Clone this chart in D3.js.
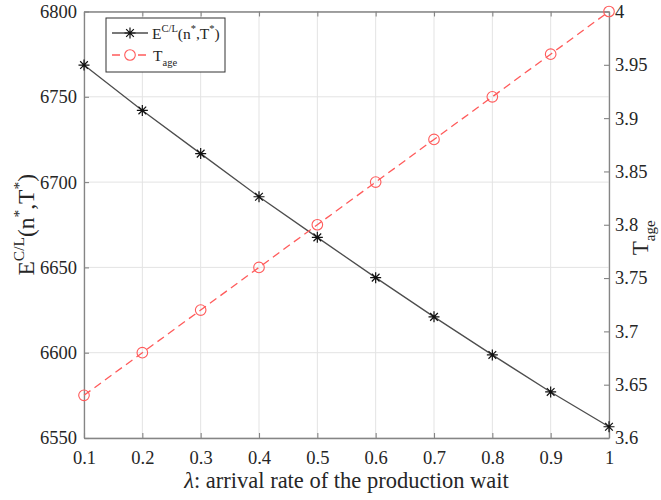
<!DOCTYPE html>
<html>
<head>
<meta charset="utf-8">
<script src="https://cdn.jsdelivr.net/npm/d3@7"></script>
<style>
  body { margin: 0; background: #fff; }
  svg text { font-family: "Liberation Serif", "Times New Roman", serif; fill: #262626; }
</style>
</head>
<body>
<div id="chart"></div>
<script>
// data
const lambda = [0.1, 0.2, 0.3, 0.4, 0.5, 0.6, 0.7, 0.8, 0.9, 1.0];
const costE = [6768.6, 6742, 6716.7, 6691.4, 6667.6, 6644, 6621, 6598.7, 6577, 6556.6];
const tAge = [3.64, 3.68, 3.72, 3.76, 3.80, 3.84, 3.88, 3.92, 3.96, 4.00];
const xTicks = [0.1, 0.2, 0.3, 0.4, 0.5, 0.6, 0.7, 0.8, 0.9, 1];
const leftTicks = [6550, 6600, 6650, 6700, 6750, 6800];
const rightTicks = [3.6, 3.65, 3.7, 3.75, 3.8, 3.85, 3.9, 3.95, 4];

const canvas_width = 661, canvas_height = 500;
const margin = {top: 11.5, right: 52, bottom: 62, left: 84};
const w = canvas_width - margin.left - margin.right,
      h = canvas_height - margin.top - margin.bottom;

const serif = "'Liberation Serif', 'Times New Roman', serif";
const axisCol = "#858585";
const lineCol = "#4d4d4d";
const red = "#ff5b5b";

const svg = d3.select("#chart").append("svg")
    .attr("width", canvas_width)
    .attr("height", canvas_height);
const g = svg.append("g")
    .attr("transform", "translate(" + margin.left + "," + margin.top + ")");

const x = d3.scaleLinear().domain([0.1, 1]).range([0, w]);
const yL = d3.scaleLinear().domain([6550, 6800]).range([h, 0]);
const yR = d3.scaleLinear().domain([3.6, 4]).range([h, 0]);

// grid
g.append("g").selectAll("line").data(xTicks).join("line")
    .attr("x1", d => x(d)).attr("x2", d => x(d))
    .attr("y1", 0).attr("y2", h)
    .attr("stroke", "#e3e3e3").attr("stroke-width", 1);
g.append("g").selectAll("line").data(leftTicks).join("line")
    .attr("x1", 0).attr("x2", w)
    .attr("y1", d => yL(d)).attr("y2", d => yL(d))
    .attr("stroke", "#e3e3e3").attr("stroke-width", 1);

function style(sel) {
  sel.attr("font-family", null).attr("font-size", null);
  sel.select(".domain").attr("stroke", axisCol).attr("stroke-width", 1.3);
  sel.selectAll(".tick line").attr("stroke", axisCol).attr("stroke-width", 1.1);
  sel.selectAll(".tick text")
    .style("font-family", serif)
    .style("font-size", "18.5px")
    .style("fill", "#262626");
}

// axes, ticks inward
g.append("g").attr("transform", "translate(0," + h + ")")
  .call(d3.axisBottom(x).tickValues(xTicks).tickFormat(d3.format("")).tickSize(-5).tickSizeOuter(0).tickPadding(13))
  .call(style);
g.append("g")
  .call(d3.axisTop(x).tickValues(xTicks).tickFormat("").tickSize(-5).tickSizeOuter(0))
  .call(style);
g.append("g")
  .call(d3.axisLeft(yL).tickValues(leftTicks).tickFormat(d3.format("d")).tickSize(-5).tickSizeOuter(0).tickPadding(7))
  .call(style);
g.append("g").attr("transform", "translate(" + w + ",0)")
  .call(d3.axisRight(yR).tickValues(rightTicks).tickFormat(d => String(+d.toFixed(2))).tickSize(-5).tickSizeOuter(0).tickPadding(6))
  .call(style);

// series E
g.append("path").datum(lambda.map((l, i) => [l, costE[i]]))
  .attr("fill", "none").attr("stroke", lineCol).attr("stroke-width", 1.3)
  .attr("d", d3.line().x(d => x(d[0])).y(d => yL(d[1])));

function star(sel, r) {
  const p = "M" + (-r) + ",0H" + r + "M0," + (-r) + "V" + r +
    "M" + (-r * 0.7) + "," + (-r * 0.7) + "L" + (r * 0.7) + "," + (r * 0.7) +
    "M" + (-r * 0.7) + "," + (r * 0.7) + "L" + (r * 0.7) + "," + (-r * 0.7);
  sel.append("path").attr("d", p).attr("stroke", "#111").attr("stroke-width", 1.2).attr("fill", "none");
}
g.append("g").selectAll("g").data(lambda.map((l, i) => [l, costE[i]])).join("g")
  .attr("transform", d => "translate(" + x(d[0]) + "," + yL(d[1]) + ")")
  .each(function() { star(d3.select(this), 5.5); });

// series T_age
g.append("path").datum(lambda.map((l, i) => [l, tAge[i]]))
  .attr("fill", "none").attr("stroke", red).attr("stroke-width", 1.3)
  .attr("stroke-dasharray", "8,5")
  .attr("d", d3.line().x(d => x(d[0])).y(d => yR(d[1])));
g.append("g").selectAll("circle").data(lambda.map((l, i) => [l, tAge[i]])).join("circle")
  .attr("cx", d => x(d[0])).attr("cy", d => yR(d[1])).attr("r", 5.3)
  .attr("fill", "none").attr("stroke", red).attr("stroke-width", 1.1);

// x label
svg.append("text")
  .attr("x", margin.left + w / 2).attr("y", 488)
  .attr("text-anchor", "middle").attr("font-size", 22.5)
  .call(t => {
    t.append("tspan").attr("font-style", "italic").text("λ");
    t.append("tspan").text(": arrival rate of the production wait");
  });

// left y label
const yl = svg.append("text")
  .attr("transform", "translate(34," + (margin.top + h / 2) + ") rotate(-90)")
  .attr("text-anchor", "middle").attr("font-size", 23.5);
yl.append("tspan").text("E");
yl.append("tspan").attr("font-size", 15.5).attr("dy", -10).text("C/L");
yl.append("tspan").attr("dy", 10).text("(n");
yl.append("tspan").attr("font-size", 15.5).attr("dy", -10).text("*");
yl.append("tspan").attr("dy", 10).text(",T");
yl.append("tspan").attr("font-size", 15.5).attr("dy", -10).text("*");
yl.append("tspan").attr("dy", 10).text(")");

// right y label
const yr = svg.append("text")
  .attr("transform", "translate(648," + (margin.top + h / 2 + 13) + ") rotate(-90)")
  .attr("text-anchor", "middle").attr("font-size", 23);
yr.append("tspan").text("T");
yr.append("tspan").attr("font-size", 15).attr("dy", 7).text("age");

// legend
const lg = svg.append("g").attr("transform", "translate(106,18)");
lg.append("rect").attr("width", 119).attr("height", 54)
  .attr("fill", "#fff").attr("stroke", "#333").attr("stroke-width", 1);
lg.append("line").attr("x1", 6).attr("x2", 42).attr("y1", 15).attr("y2", 15)
  .attr("stroke", lineCol).attr("stroke-width", 1.3);
lg.append("g").attr("transform", "translate(24,15)").call(s => star(s, 5.5));
const t1 = lg.append("text").attr("x", 46).attr("y", 21).attr("font-size", 15.5);
t1.append("tspan").text("E");
t1.append("tspan").attr("font-size", 10.5).attr("dy", -7).text("C/L");
t1.append("tspan").attr("dy", 7).text("(n");
t1.append("tspan").attr("font-size", 10.5).attr("dy", -7).text("*");
t1.append("tspan").attr("dy", 7).text(",T");
t1.append("tspan").attr("font-size", 10.5).attr("dy", -7).text("*");
t1.append("tspan").attr("dy", 7).text(")");
lg.append("line").attr("x1", 6).attr("x2", 42).attr("y1", 37).attr("y2", 37)
  .attr("stroke", red).attr("stroke-width", 1.3).attr("stroke-dasharray", "8,5");
lg.append("circle").attr("cx", 24).attr("cy", 37).attr("r", 5.3)
  .attr("fill", "#fff").attr("stroke", red).attr("stroke-width", 1.1);
const t2 = lg.append("text").attr("x", 47).attr("y", 43).attr("font-size", 15.5);
t2.append("tspan").text("T");
t2.append("tspan").attr("font-size", 10.5).attr("dy", 5).text("age");
</script>
</body>
</html>
